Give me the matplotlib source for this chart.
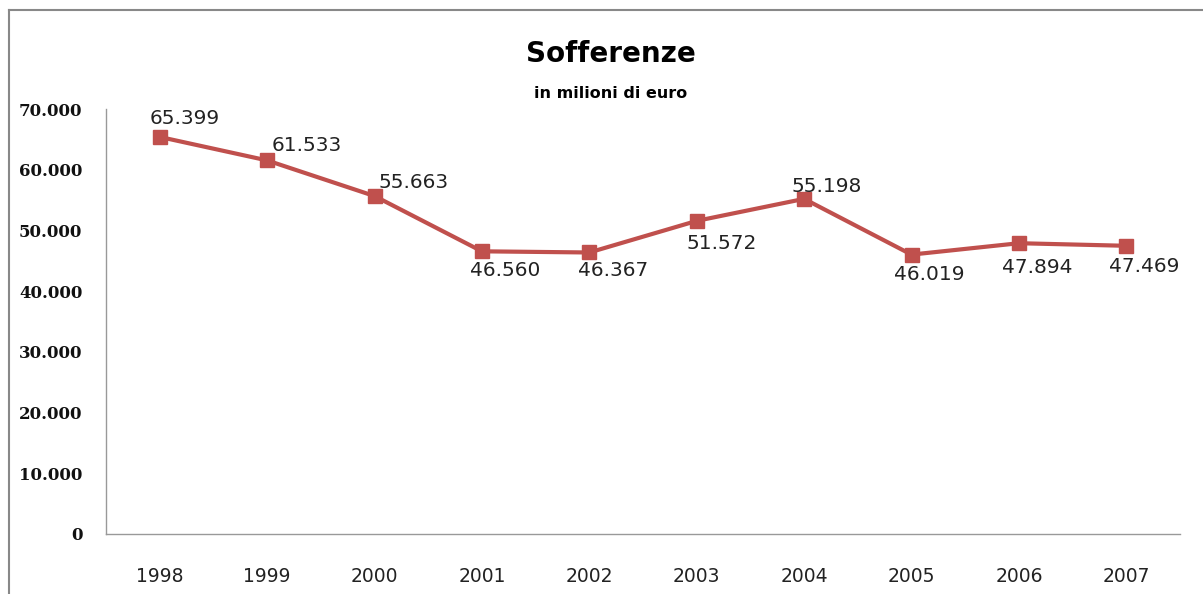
import matplotlib
matplotlib.use("Agg")
import matplotlib.pyplot as plt
from matplotlib.lines import Line2D
from matplotlib.ticker import FuncFormatter

anni = ["1998", "1999", "2000", "2001", "2002", "2003", "2004", "2005", "2006", "2007"]
sofferenze = [65399, 61533, 55663, 46560, 46367, 51572, 55198, 46019, 47894, 47469]
y_ticks = [0, 10000, 20000, 30000, 40000, 50000, 60000, 70000]

# posizione delle etichette (pixel rispetto al punto)
label_offsets = [(25, 18), (40, 15), (39, 14), (23, -19), (24, -18),
                 (25, -23), (23, 12), (18, -20), (18, -24), (18, -21)]


def it_fmt(v, pos=None):
    return f"{int(v):,}".replace(",", ".")


fig = plt.figure(figsize=(12.03, 5.94), dpi=100)
ax = fig.add_axes([106 / 1203, 1 - 534 / 594, (1180 - 106) / 1203, (534 - 109) / 594])

x = list(range(len(anni)))
ax.plot(x, sofferenze, color="#C0504D", linewidth=3, marker="s",
        markersize=9.5, markeredgecolor="#C0504D")

for xi, v, (dx, dy) in zip(x, sofferenze, label_offsets):
    ax.annotate(it_fmt(v), (xi, v), xytext=(dx, dy), textcoords="offset pixels",
                ha="center", va="center", fontsize=14.5, color="#222222",
                family="DejaVu Sans")

ax.set_xlim(-0.5, len(anni) - 0.5)
ax.set_ylim(0, 70000)
ax.set_xticks(x)
ax.set_xticklabels(anni, fontsize=13.5, family="DejaVu Sans", color="#222222")
ax.set_yticks(y_ticks)
ax.yaxis.set_major_formatter(FuncFormatter(it_fmt))
for lab in ax.get_yticklabels():
    lab.set_family("DejaVu Serif")
    lab.set_fontweight("bold")
    lab.set_fontsize(12)
    lab.set_color("#111111")
ax.tick_params(axis="both", length=0)
ax.tick_params(axis="y", pad=17)
ax.tick_params(axis="x", pad=24)

for s in ["top", "right"]:
    ax.spines[s].set_visible(False)
for s in ["left", "bottom"]:
    ax.spines[s].set_color("#999999")
    ax.spines[s].set_linewidth(1.0)

fig.text(611 / 1203, 1 - 62 / 594, "Sofferenze", ha="center", va="baseline",
         fontsize=20, fontweight="bold", family="DejaVu Sans")
fig.text(611 / 1203, 1 - 98 / 594, "in milioni di euro", ha="center", va="baseline",
         fontsize=11.5, fontweight="bold", family="DejaVu Sans")

# cornice del grafico
fig.add_artist(Line2D([9 / 1203, 9 / 1203], [0, 1 - 10 / 594], color="#888888", linewidth=1.5))
fig.add_artist(Line2D([9 / 1203, 1], [1 - 10 / 594, 1 - 10 / 594], color="#888888", linewidth=1.5))

fig.savefig("out.png", dpi=100)
